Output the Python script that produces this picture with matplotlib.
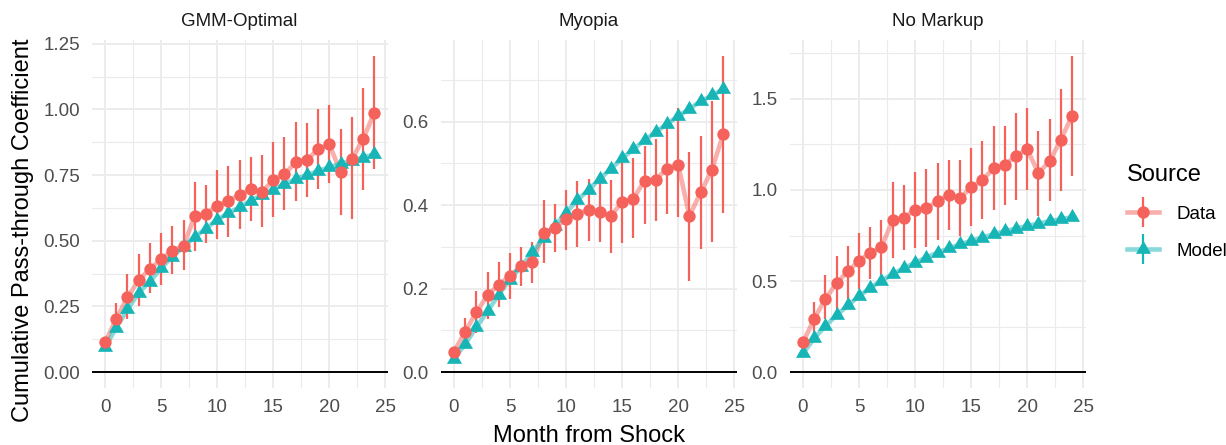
import numpy as np
import matplotlib.pyplot as plt
from matplotlib.lines import Line2D
from matplotlib.path import Path
from matplotlib.ticker import MultipleLocator

plt.rcParams['font.family'] = ['Liberation Sans', 'DejaVu Sans']

months = list(range(25))
panels = ['GMM-Optimal', 'Myopia', 'No Markup']

# GMM-Optimal
gmm_data = [0.113, 0.204, 0.285, 0.350, 0.393, 0.430, 0.462, 0.482, 0.593, 0.603,
            0.634, 0.652, 0.676, 0.696, 0.687, 0.731, 0.754, 0.798, 0.808, 0.848,
            0.867, 0.763, 0.810, 0.886, 0.986]
gmm_lo = [0.100, 0.157, 0.201, 0.251, 0.300, 0.333, 0.373, 0.389, 0.461, 0.490,
          0.506, 0.515, 0.544, 0.575, 0.553, 0.590, 0.616, 0.653, 0.668, 0.697,
          0.719, 0.597, 0.584, 0.695, 0.773]
gmm_hi = [0.126, 0.264, 0.373, 0.448, 0.490, 0.530, 0.555, 0.578, 0.725, 0.714,
          0.769, 0.785, 0.809, 0.820, 0.827, 0.876, 0.896, 0.951, 0.948, 1.001,
          1.018, 0.926, 0.970, 1.080, 1.204]
gmm_model = [0.094, 0.170, 0.239, 0.302, 0.345, 0.396, 0.440, 0.477, 0.515, 0.546,
             0.580, 0.605, 0.628, 0.653, 0.675, 0.695, 0.716, 0.735, 0.750, 0.766,
             0.779, 0.794, 0.804, 0.817, 0.829]

# Myopia
myo_data = [0.049, 0.097, 0.144, 0.184, 0.210, 0.231, 0.255, 0.263, 0.334, 0.346,
            0.366, 0.380, 0.389, 0.384, 0.374, 0.408, 0.416, 0.459, 0.461, 0.488,
            0.497, 0.374, 0.431, 0.484, 0.570]
myo_lo = [0.040, 0.067, 0.095, 0.127, 0.156, 0.176, 0.206, 0.214, 0.261, 0.287,
          0.293, 0.301, 0.314, 0.313, 0.285, 0.310, 0.321, 0.354, 0.362, 0.380,
          0.372, 0.219, 0.295, 0.313, 0.382]
myo_hi = [0.058, 0.131, 0.194, 0.240, 0.264, 0.285, 0.301, 0.313, 0.412, 0.404,
          0.437, 0.459, 0.463, 0.457, 0.461, 0.503, 0.512, 0.542, 0.558, 0.606,
          0.633, 0.528, 0.566, 0.649, 0.758]
myo_model = [0.032, 0.067, 0.108, 0.146, 0.186, 0.222, 0.253, 0.287, 0.322, 0.351,
             0.382, 0.412, 0.437, 0.463, 0.487, 0.512, 0.534, 0.556, 0.575, 0.595,
             0.613, 0.631, 0.649, 0.663, 0.678]

# No Markup
nom_data = [0.163, 0.293, 0.402, 0.489, 0.553, 0.611, 0.656, 0.688, 0.833, 0.848,
            0.891, 0.900, 0.938, 0.975, 0.955, 1.014, 1.054, 1.118, 1.138, 1.187,
            1.223, 1.092, 1.159, 1.274, 1.408]
nom_lo = [0.145, 0.217, 0.290, 0.344, 0.402, 0.457, 0.511, 0.534, 0.625, 0.670,
          0.679, 0.688, 0.725, 0.779, 0.746, 0.801, 0.839, 0.888, 0.915, 0.947,
          1.000, 0.857, 0.937, 0.993, 1.078]
nom_hi = [0.181, 0.386, 0.534, 0.638, 0.694, 0.761, 0.797, 0.833, 1.045, 1.027,
          1.101, 1.114, 1.150, 1.165, 1.163, 1.232, 1.268, 1.350, 1.350, 1.422,
          1.449, 1.326, 1.390, 1.553, 1.736]
nom_model = [0.103, 0.185, 0.254, 0.312, 0.366, 0.417, 0.462, 0.502, 0.538, 0.571,
             0.601, 0.629, 0.656, 0.679, 0.701, 0.721, 0.739, 0.757, 0.774, 0.788,
             0.803, 0.815, 0.828, 0.839, 0.851]

series = [(gmm_data, gmm_lo, gmm_hi, gmm_model),
          (myo_data, myo_lo, myo_hi, myo_model),
          (nom_data, nom_lo, nom_hi, nom_model)]
y_major = [0.25, 0.2, 0.5]
y_fmt = ['{:.2f}', '{:.1f}', '{:.1f}']

RED = '#F4625B'
TEAL = '#17B5B6'
GRID = '#EBEBEB'

# equilateral triangle centred on its centroid, like R's pch 17
tri = Path([(0, 1), (0.866, -0.5), (-0.866, -0.5), (0, 1)],
           [Path.MOVETO, Path.LINETO, Path.LINETO, Path.CLOSEPOLY])
TRI_MS = 12.5
DOT_MS = 8.9

fig = plt.figure(figsize=(12.26, 4.45), dpi=100)
lefts = [91.6, 440.5, 789.5]
W, H = 1226, 445

for i, (name, (d, lo, hi, m)) in enumerate(zip(panels, series)):
    ax = fig.add_axes([lefts[i] / W, 57 / H, 296 / W, 348 / H])
    x = np.array(months)
    ax.plot(x, d, color=RED, alpha=0.5, lw=3.3, zorder=2, solid_capstyle='butt')
    ax.plot(x, m, color=TEAL, alpha=0.5, lw=3.3, zorder=2, solid_capstyle='butt')
    ax.vlines(x, lo, hi, color=RED, lw=1.6, zorder=3)
    ax.plot(x, m, ls='none', marker=tri, ms=TRI_MS, color=TEAL, mec='none', zorder=4)
    ax.plot(x, d, ls='none', marker='o', ms=DOT_MS, color=RED, mec='none', zorder=5)
    ax.axhline(0, color='black', lw=1.4, zorder=1.5)

    top = max(hi)
    rng = top - 0
    ax.set_ylim(-0.05 * rng, top + 0.05 * rng)
    ax.set_xlim(-1.2, 25.2)

    ax.xaxis.set_major_locator(MultipleLocator(5))
    ax.xaxis.set_minor_locator(MultipleLocator(2.5))
    ax.yaxis.set_major_locator(MultipleLocator(y_major[i]))
    ax.yaxis.set_minor_locator(MultipleLocator(y_major[i] / 2))
    fmt = y_fmt[i]
    ax.yaxis.set_major_formatter(plt.FuncFormatter(lambda v, p, f=fmt: f.format(v)))

    ax.grid(True, which='major', color=GRID, lw=1.3, zorder=0)
    ax.grid(True, which='minor', color=GRID, lw=0.8, zorder=0)
    ax.set_axisbelow(True)
    for s in ax.spines.values():
        s.set_visible(False)
    ax.tick_params(which='both', length=0, labelsize=13.5, labelcolor='#4D4D4D')
    ax.tick_params(axis='y', pad=8.5)
    ax.tick_params(axis='x', pad=8)
    ax.set_title(name, fontsize=13.5, color='#1A1A1A', pad=10)

fig.text(589 / W, 3 / H, 'Month from Shock', ha='center', va='baseline', fontsize=17)
fig.text(12 / W, 215 / H, 'Cumulative Pass-through Coefficient', ha='left', va='center',
         rotation=90, fontsize=17)

handles = []
for c, mk, ms in [(RED, 'o', DOT_MS), (TEAL, tri, TRI_MS)]:
    h_line = Line2D([], [], color=c, alpha=0.5, lw=3.3)
    h_bar = Line2D([], [], ls='none', marker='|', ms=21, mew=1.6, color=c)
    h_pt = Line2D([], [], ls='none', marker=mk, ms=ms, color=c, mec='none')
    handles.append((h_line, h_bar, h_pt))

leg = fig.legend(handles, ['Data', 'Model'], loc='center left',
                 bbox_to_anchor=(1118 / W, 1 - 212 / H), frameon=False,
                 title='Source', title_fontsize=17, fontsize=13.5,
                 handlelength=1.7, handletextpad=0.9, labelspacing=1.05,
                 borderpad=0, alignment='left')

fig.savefig('out.png', dpi=100)
